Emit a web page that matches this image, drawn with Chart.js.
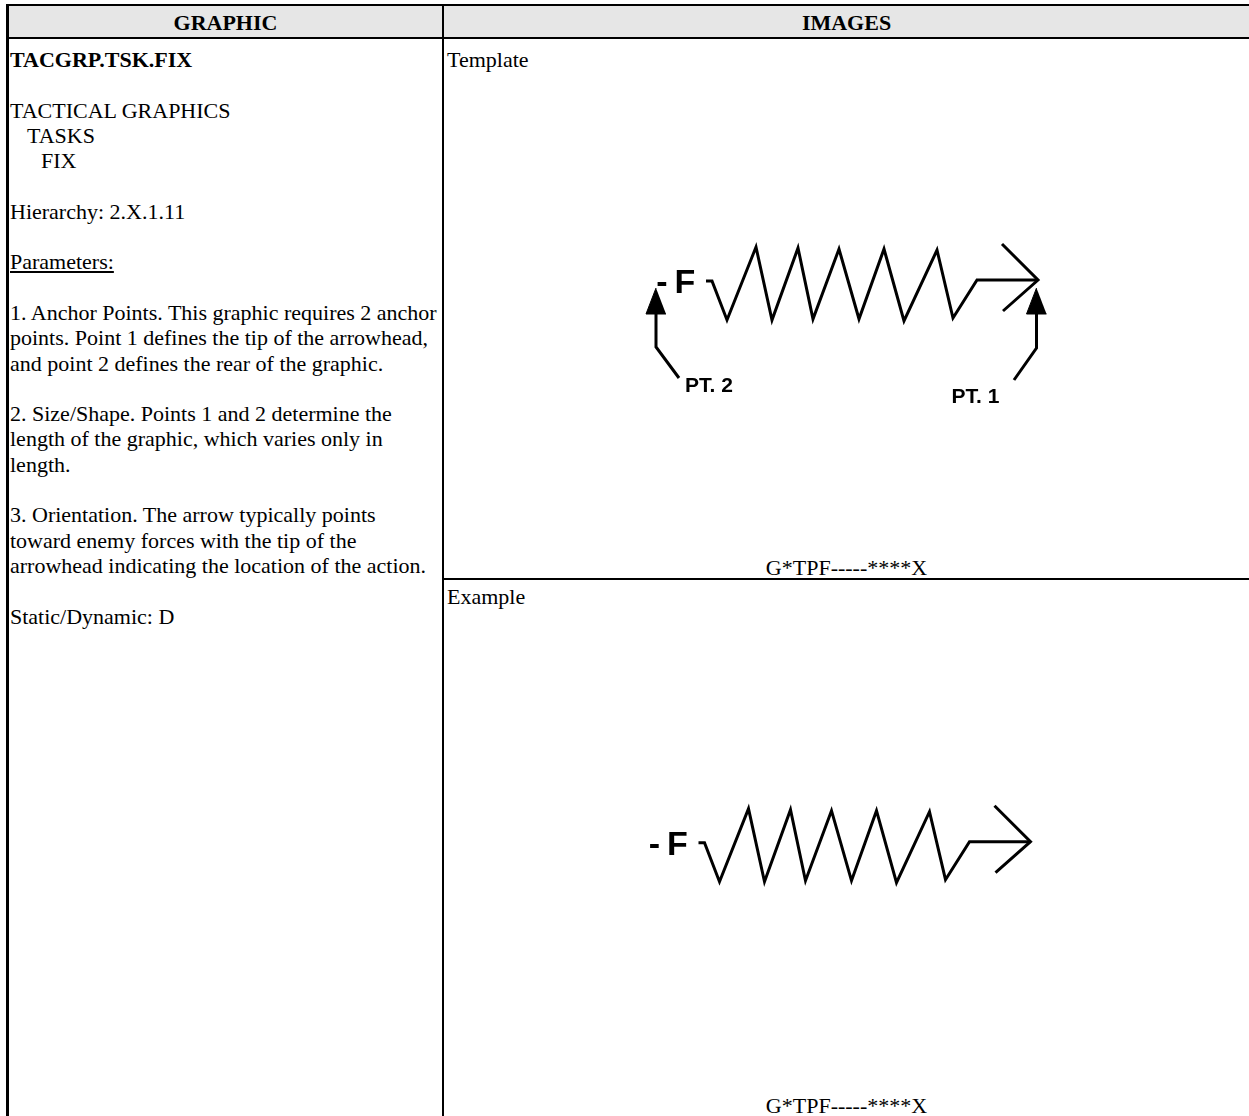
<!DOCTYPE html>
<html><head><meta charset="utf-8">
<script src="https://cdn.jsdelivr.net/npm/chart.js@4.4.1/dist/chart.umd.min.js"></script>
<style>
html,body{margin:0;padding:0;background:#fff;}
body{width:1249px;height:1116px;position:relative;overflow:hidden;font-family:"Liberation Serif","Times New Roman",serif;font-size:22px;color:#000;}
.ln{position:absolute;background:#000;}
.t{position:absolute;white-space:pre;line-height:25.3px;}
.hdr{position:absolute;background:#e6e6e6;}
.cw{position:absolute;}
</style></head><body>
<div class="hdr" style="left:8px;top:6px;width:1241px;height:31px;"></div>
<div class="ln" style="left:6px;top:4px;width:1243px;height:2px;"></div>
<div class="ln" style="left:6px;top:37px;width:1243px;height:2px;"></div>
<div class="ln" style="left:6px;top:4px;width:3px;height:1112px;"></div>
<div class="ln" style="left:442px;top:4px;width:2px;height:1112px;"></div>
<div class="ln" style="left:444px;top:578px;width:805px;height:2px;"></div>

<div class="t" id="h1" style="left:9px;top:10px;width:433px;text-align:center;font-weight:bold;"></div>
<div class="t" id="h2" style="left:444px;top:10px;width:805px;text-align:center;font-weight:bold;"></div>

<div class="t" style="left:10px;top:47px;"><b>TACGRP.TSK.FIX</b>

TACTICAL GRAPHICS
<span style="padding-left:17px">TASKS</span>
<span style="padding-left:31px">FIX</span>

Hierarchy: 2.X.1.11

<u>Parameters:</u>

1. Anchor Points. This graphic requires 2 anchor
points. Point 1 defines the tip of the arrowhead,
and point 2 defines the rear of the graphic.

2. Size/Shape. Points 1 and 2 determine the
length of the graphic, which varies only in
length.

3. Orientation. The arrow typically points
toward enemy forces with the tip of the
arrowhead indicating the location of the action.

Static/Dynamic: D</div>

<div class="t" style="left:447px;top:47px;">Template</div>
<div class="t" id="code1" style="left:444px;top:555px;width:805px;text-align:center;"></div>
<div class="t" style="left:447px;top:584px;">Example</div>
<div class="t" id="code2" style="left:444px;top:1093px;width:805px;text-align:center;"></div>

<div class="cw" style="left:444px;top:39px;width:805px;height:539px;"><canvas id="tpl"></canvas></div>
<div class="cw" style="left:444px;top:580px;width:805px;height:536px;"><canvas id="ex"></canvas></div>

<script>
// ---- data (graphic units, origin at PT.2 stem / arrow shaft level, y up) ----
const tableHeaders = ['GRAPHIC', 'IMAGES'];
const symbolCode = 'G*TPF-----****X';

const zigX = [50, 56, 71, 100, 116, 142, 157, 183, 203, 228, 248, 281, 297, 321, 382];
const zigY = [-1, -1, -40, 33, -40, 32, -39, 31, -39, 31, -41, 30, -38, 0, 0];
const headX = [346, 382, 347];
const headY = [36, 0, -31];

const pt2LeaderX = [0, 0, 23];
const pt2LeaderY = [-33, -67, -98];
const pt2TipX = [0, -10, 10];
const pt2TipY = [-8, -34, -34];

const pt1LeaderX = [380.5, 380.5, 358];
const pt1LeaderY = [-33, -68, -100];
const pt1TipX = [380.5, 370.5, 390.5];
const pt1TipY = [-8, -34, -34];

const symbolTexts = ['-', 'F'];
const symbolTextX = [6, 18.5];
const symbolTextY = [-13, -13];
const anchorLabels = ['PT. 2', 'PT. 1'];
const anchorLabelX = [29, 295.5];
const anchorLabelY = [-111.5, -123];

// ---- build ----
document.getElementById('h1').textContent = tableHeaders[0];
document.getElementById('h2').textContent = tableHeaders[1];
document.getElementById('code1').textContent = symbolCode;
document.getElementById('code2').textContent = symbolCode;

const pts = (xs, ys) => xs.map((x, i) => ({x: x, y: ys[i]}));

function lineDs(xs, ys, extra) {
  return Object.assign({
    data: pts(xs, ys), showLine: true, pointRadius: 0, pointHoverRadius: 0,
    borderColor: '#000', borderWidth: 3, borderJoinStyle: 'miter', borderCapStyle: 'butt',
    tension: 0, fill: false
  }, extra || {});
}
function triDs(xs, ys) {
  return lineDs(xs, ys, {fill: 'shape', backgroundColor: '#000', borderWidth: 1});
}

const textPlugin = {
  id: 'graphicText',
  afterDatasetsDraw(chart, args, opts) {
    const {ctx, scales: {x, y}} = chart;
    ctx.save();
    ctx.fillStyle = '#000';
    ctx.textBaseline = 'alphabetic';
    ctx.font = 'bold 34px "Liberation Sans", Arial, sans-serif';
    ctx.textAlign = 'center';
    ctx.fillText(symbolTexts[0], x.getPixelForValue(symbolTextX[0]), y.getPixelForValue(symbolTextY[0]));
    ctx.textAlign = 'left';
    ctx.fillText(symbolTexts[1], x.getPixelForValue(symbolTextX[1]), y.getPixelForValue(symbolTextY[1]));
    if (opts.anchors) {
      ctx.font = 'bold 21px "Liberation Sans", Arial, sans-serif';
      anchorLabels.forEach((t, i) => ctx.fillText(t, x.getPixelForValue(anchorLabelX[i]), y.getPixelForValue(anchorLabelY[i])));
    }
    ctx.restore();
  }
};

function makeChart(id, range, anchors) {
  const datasets = [lineDs(zigX, zigY), lineDs(headX, headY)];
  if (anchors) {
    datasets.push(lineDs(pt2LeaderX, pt2LeaderY), triDs(pt2TipX, pt2TipY),
                  lineDs(pt1LeaderX, pt1LeaderY), triDs(pt1TipX, pt1TipY));
  }
  return new Chart(document.getElementById(id), {
    type: 'scatter',
    data: {datasets},
    plugins: [textPlugin],
    options: {
      responsive: true, maintainAspectRatio: false, animation: false,
      layout: {padding: 0},
      events: [],
      scales: {
        x: {type: 'linear', display: false, min: range[0], max: range[1]},
        y: {type: 'linear', display: false, min: range[2], max: range[3]}
      },
      plugins: {legend: {display: false}, tooltip: {enabled: false}, graphicText: {anchors}}
    }
  });
}

makeChart('tpl', [-212, 593, -298, 241], true);
makeChart('ex', [-204.5, 600.5, -274.3, 261.7], false);
</script>
</body></html>
